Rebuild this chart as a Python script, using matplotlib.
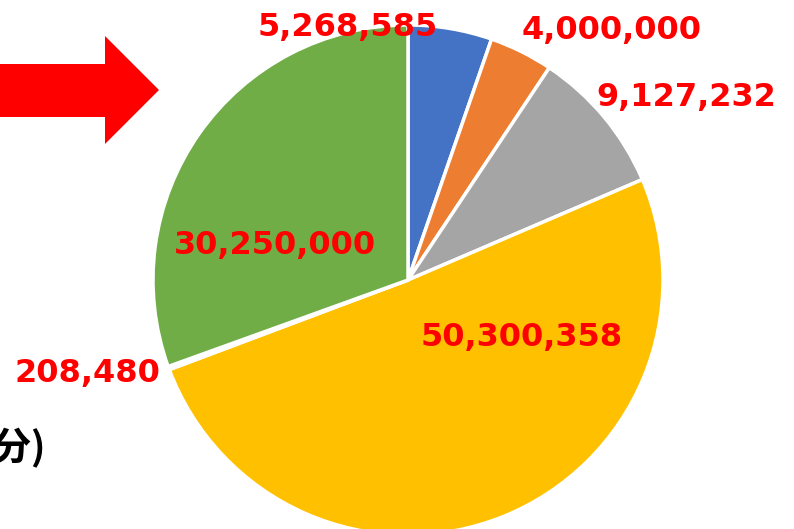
import matplotlib.pyplot as plt
import matplotlib.patches as mpatches

# slice values, clockwise from 12 o'clock
values = [5268585, 4000000, 9127232, 50300358, 208480, 30250000]
labels = ['5,268,585', '4,000,000', '9,127,232', '50,300,358', '208,480', '30,250,000']
colors = ['#4472C4', '#ED7D31', '#A5A5A5', '#FFC000', '#255E91', '#70AD47']

# label positions (pie radius = 1), moved by hand like in the original
label_pos = [(-0.235, 0.992), (0.80, 0.98), (1.09, 0.714),
             (0.447, -0.224), (-1.259, -0.365), (-0.522, 0.137)]

W, H = 794, 529
cx, cy, r = 408, 249, 255   # pie centre / radius in pixels (from bottom)

fig = plt.figure(figsize=(W / 100, H / 100), dpi=100)
ax = fig.add_axes([0, 0, 1, 1])

ax.pie(values, colors=colors, startangle=90, counterclock=False, radius=1,
       wedgeprops=dict(edgecolor='white', linewidth=2.5))
ax.set_xlim(-cx / r, (W - cx) / r)
ax.set_ylim(-cy / r, (H - cy) / r)
ax.set_aspect('equal')
ax.axis('off')

for txt, (x, y) in zip(labels, label_pos):
    ax.text(x, y, txt, color='#FF0000', fontsize=23, fontweight='bold',
            ha='center', va='center')

# red arrow on the left
pts = [(0, 64), (105, 64), (105, 36), (159, 90), (105, 144), (105, 117), (0, 117)]
arrow = mpatches.Polygon([(x / W, 1 - y / H) for x, y in pts], closed=True,
                         facecolor='#FF0000', edgecolor='none',
                         transform=fig.transFigure)
fig.patches.append(arrow)

# caption, cut off at the left edge as in the original
fig.text(46 / W, 1 - 448 / H, '(単位:分)', ha='right', va='center',
         fontsize=28, fontweight='bold', color='black',
         family=['Noto Sans CJK JP', 'DejaVu Sans'])

fig.savefig('out.png', dpi=100)
plt.close()
